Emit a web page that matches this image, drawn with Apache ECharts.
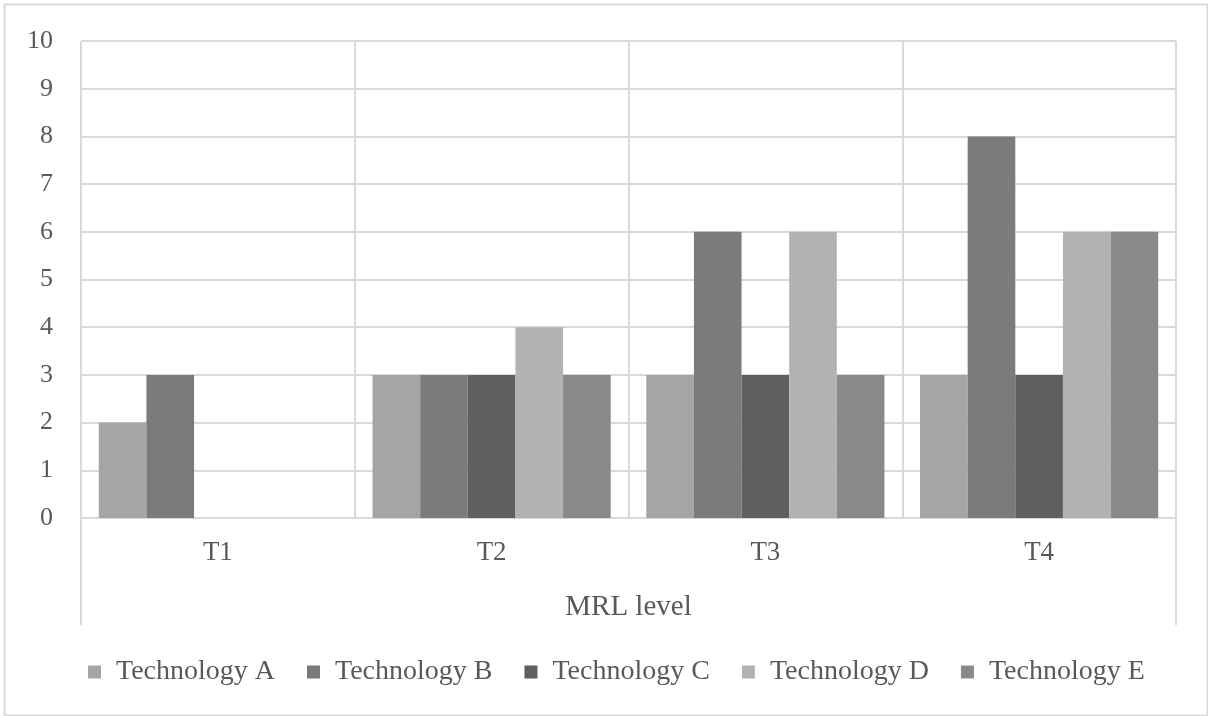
<!DOCTYPE html>
<html>
<head>
<meta charset="utf-8">
<script src="https://cdn.jsdelivr.net/npm/echarts@6/dist/echarts.min.js"></script>
<style>html,body{margin:0;padding:0;background:#fff}#c{width:1208px;height:716px}</style>
</head>
<body>
<div id="c"></div>
<script>
const categories = ['T1', 'T2', 'T3', 'T4'];
const groupLabel = ['MRL level'];
const seriesNames = ['Technology A', 'Technology B', 'Technology C', 'Technology D', 'Technology E'];
const techA = [2, 3, 3, 3];
const techB = [3, 3, 6, 8];
const techC = [0, 3, 3, 3];
const techD = [0, 4, 6, 6];
const techE = [0, 3, 3, 6];
const colors = ['#a5a5a5', '#7b7b7b', '#5f5f5f', '#b2b2b2', '#898989'];
const values = [techA, techB, techC, techD, techE];

const font = 'Liberation Serif';
const textColor = '#595959';
const gridColor = '#d9d9d9';
const chart = echarts.init(document.getElementById('c'));
chart.setOption({
  animation: false,
  textStyle: { fontFamily: font },
  graphic: [{
    type: 'rect', left: 2, top: 2, shape: { width: 1203, height: 711 },
    style: { fill: 'none', stroke: gridColor, lineWidth: 2 }, silent: true
  }],
  grid: [
    { left: 81, right: 32, top: 41, bottom: 198 },
    { left: 81, right: 32, top: 518, bottom: 91 }
  ],
  legend: {
    bottom: 25, left: 83, itemWidth: 13, itemHeight: 13, itemGap: 32,
    icon: 'rect',
    textStyle: { fontFamily: font, fontSize: 28, color: textColor, padding: [0, 0, 0, 10] },
    data: seriesNames
  },
  xAxis: [{
    type: 'category', data: categories, gridIndex: 0,
    name: 'MRL level', nameLocation: 'middle', nameGap: 75,
    nameTextStyle: { fontFamily: font, fontSize: 29, color: textColor },
    axisLine: { show: true, lineStyle: { color: gridColor, width: 2 } },
    axisTick: { show: false },
    axisLabel: { fontFamily: font, fontSize: 27, color: textColor, margin: 21 },
    splitLine: { show: true, lineStyle: { color: gridColor, width: 2 } }
  }, {
    type: 'category', data: groupLabel, gridIndex: 1,
    axisLine: { show: false }, axisTick: { show: false }, axisLabel: { show: false },
    splitLine: { show: true, lineStyle: { color: gridColor, width: 2 } }
  }],
  yAxis: [{
    type: 'value', min: 0, max: 10, interval: 1, gridIndex: 0,
    axisLine: { show: false }, axisTick: { show: false },
    axisLabel: { fontFamily: font, fontSize: 26, color: textColor, margin: 28 },
    splitLine: { lineStyle: { color: gridColor, width: 2 } }
  }, {
    type: 'value', gridIndex: 1, show: false
  }],
  series: seriesNames.map((n, i) => ({
    name: n, type: 'bar', data: values[i], xAxisIndex: 0, yAxisIndex: 0,
    barGap: '0%', barCategoryGap: '13%',
    itemStyle: { color: colors[i] }
  }))
});
</script>
</body>
</html>
